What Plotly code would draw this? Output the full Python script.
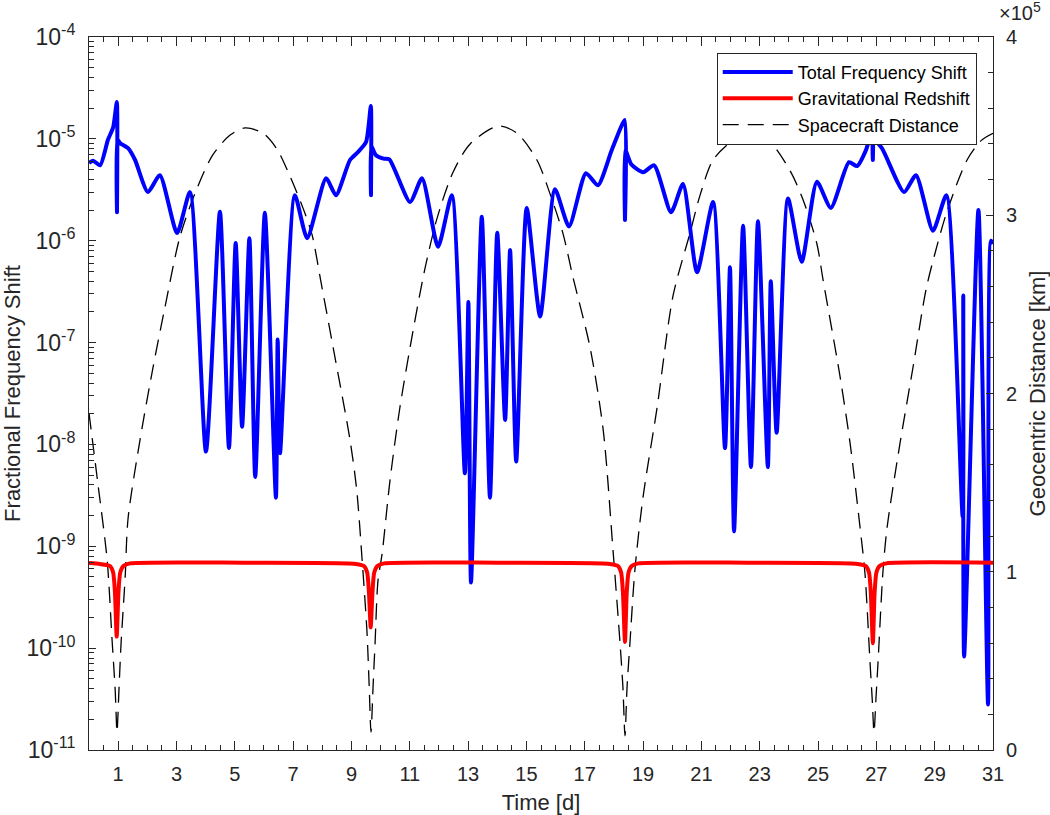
import plotly.graph_objects as go

# ---------------- data ----------------
# Total frequency shift (blue)
time_total = [0.00, 0.14, 0.38, 0.65, 0.83, 0.955, 0.960, 0.967, 1.06, 1.34, 1.58, 2.02,
              2.43, 3.02, 3.46, 4.01, 4.49, 4.80, 5.03, 5.25, 5.50, 5.70, 6.03, 6.41,
              6.47, 6.55, 7.06, 7.48, 8.13, 8.47, 8.95, 9.22, 9.50, 9.665, 9.670, 9.677,
              9.84, 10.10, 10.30, 11.01, 11.42, 11.97, 12.44, 12.89, 13.01, 13.10, 13.47,
              13.75, 14.00, 14.27, 14.44, 14.65, 15.01, 15.47, 15.98, 16.46, 17.04, 17.45,
              17.93, 18.375, 18.380, 18.387, 18.60, 19.00, 19.38, 19.96, 20.37, 20.85,
              21.40, 21.81, 21.98, 22.12, 22.43, 22.70, 22.94, 23.28, 23.38, 23.58, 23.97,
              24.44, 24.96, 25.44, 26.06, 26.34, 26.64, 26.875, 26.880, 26.887, 27.19,
              27.95, 28.36, 28.94, 29.40, 29.96, 29.98, 30.01, 30.50, 30.83, 30.93, 31.00]
total_shift = [5.8e-6, 6.1e-6, 5.5e-6, 9.8e-6, 1.3e-5, 2.3e-5, 1.9e-6, 1.0e-5, 9.1e-6, 8.1e-6,
               6.2e-6, 3.0e-6, 4.4e-6, 1.19e-6, 3.0e-6, 8.5e-9, 1.93e-6, 9.2e-9, 9.5e-7,
               1.49e-8, 1.06e-6, 4.8e-9, 1.88e-6, 3.0e-9, 1.07e-7, 8.2e-9, 2.8e-6, 1.06e-6,
               4.1e-6, 2.8e-6, 6.2e-6, 7.4e-6, 9.3e-6, 2.1e-5, 2.8e-6, 8.5e-6, 6.9e-6,
               6.4e-6, 6.3e-6, 2.4e-6, 4.1e-6, 8.7e-7, 2.8e-6, 5.2e-9, 2.5e-7, 4.4e-10,
               1.72e-6, 3.0e-9, 1.2e-6, 1.74e-8, 8.1e-7, 6.8e-9, 2.1e-6, 1.8e-7, 3.2e-6,
               1.38e-6, 4.6e-6, 3.5e-6, 7.8e-6, 1.53e-5, 1.6e-6, 7.8e-6, 5.6e-6, 4.7e-6,
               5.5e-6, 1.9e-6, 3.6e-6, 4.9e-7, 2.4e-6, 9.2e-9, 5.5e-7, 1.4e-9, 1.4e-6,
               6.0e-9, 1.55e-6, 6.0e-9, 4.0e-7, 1.3e-8, 2.6e-6, 6.2e-7, 3.8e-6, 2.1e-6,
               5.9e-6, 5.4e-6, 7.7e-6, 1.25e-5, 6.2e-6, 1.0e-5, 8.1e-6, 3.0e-6, 4.4e-6,
               1.25e-6, 2.8e-6, 1.95e-9, 2.9e-7, 8.3e-11, 2.0e-6, 2.8e-11, 1.0e-6, 9.3e-7]

# Gravitational redshift (red)
time_grav = [0.00, 0.38, 0.72, 0.83, 0.89, 0.95, 1.01, 1.07, 1.18, 1.41,
             5.30, 9.08, 9.43, 9.54, 9.60, 9.66, 9.72, 9.78, 9.89, 10.12,
             14.00, 17.79, 18.14, 18.25, 18.31, 18.38, 18.44, 18.50, 18.61, 18.84,
             22.60, 26.29, 26.64, 26.75, 26.81, 26.88, 26.94, 27.00, 27.11, 27.34, 31.00]
grav_shift = [6.85e-10, 6.7e-10, 6.4e-10, 5.5e-10, 3.5e-10, 1.3e-10, 3.5e-10, 5.5e-10, 6.4e-10, 6.8e-10,
              6.9e-10, 6.75e-10, 6.4e-10, 5.5e-10, 3.5e-10, 1.6e-10, 3.5e-10, 5.5e-10, 6.4e-10, 6.8e-10,
              6.9e-10, 6.75e-10, 6.4e-10, 5.5e-10, 3.5e-10, 1.15e-10, 3.5e-10, 5.5e-10, 6.4e-10, 6.8e-10,
              6.9e-10, 6.75e-10, 6.4e-10, 5.5e-10, 3.5e-10, 1.12e-10, 3.5e-10, 5.5e-10, 6.4e-10, 6.8e-10,
              6.9e-10]

# Spacecraft geocentric distance (black dashed), km
time_dist = [0.00, 0.30, 0.62, 0.79, 0.90, 0.96, 1.03, 1.10, 1.24, 1.34, 1.75, 2.20, 2.60,
             3.12, 3.70, 4.25, 4.84, 5.35, 5.97, 6.45, 6.89, 7.34, 7.65, 7.95, 8.37, 8.95,
             9.18, 9.36, 9.53, 9.61, 9.67, 9.74, 9.81, 9.91, 10.05, 10.32, 10.66, 11.11,
             11.52, 11.93, 12.48, 13.07, 14.03, 14.68, 15.36, 15.81, 16.25, 16.60, 17.18,
             17.63, 17.97, 18.21, 18.31, 18.38, 18.45, 18.55, 18.72, 19.00, 19.48, 20.03,
             20.61, 20.95, 21.40, 22.08, 22.60, 23.35, 24.04, 24.48, 24.96, 25.17, 25.75,
             26.10, 26.44, 26.61, 26.78, 26.86, 26.92, 26.99, 27.06, 27.23, 27.37, 27.81,
             28.26, 28.70, 29.00, 29.42, 30.11, 30.60, 31.00]
dist_km = [1.89e5, 1.50e5, 1.07e5, 0.62e5, 0.33e5, 0.10e5, 0.35e5, 0.60e5, 0.97e5, 1.30e5,
           1.74e5, 2.15e5, 2.48e5, 2.88e5, 3.15e5, 3.34e5, 3.45e5, 3.49e5, 3.46e5, 3.37e5,
           3.22e5, 3.04e5, 2.89e5, 2.63e5, 2.26e5, 1.74e5, 1.46e5, 1.08e5, 0.67e5, 0.35e5,
           0.10e5, 0.35e5, 0.60e5, 0.95e5, 1.10e5, 1.51e5, 1.92e5, 2.35e5, 2.70e5, 2.98e5,
           3.24e5, 3.40e5, 3.50e5, 3.46e5, 3.31e5, 3.12e5, 2.90e5, 2.65e5, 2.26e5, 1.80e5,
           1.12e5, 0.60e5, 0.35e5, 0.08e5, 0.35e5, 0.60e5, 1.01e5, 1.42e5, 1.92e5, 2.55e5,
           2.90e5, 3.11e5, 3.31e5, 3.42e5, 3.46e5, 3.41e5, 3.25e5, 3.09e5, 2.84e5, 2.64e5,
           2.10e5, 1.72e5, 1.25e5, 0.99e5, 0.50e5, 0.28e5, 0.10e5, 0.30e5, 0.50e5, 1.01e5,
           1.25e5, 1.72e5, 2.15e5, 2.58e5, 2.78e5, 3.02e5, 3.31e5, 3.42e5, 3.46e5]

x_ticks = list(range(1, 32, 2))
shift_ticks = [1e-11, 1e-10, 1e-9, 1e-8, 1e-7, 1e-6, 1e-5, 1e-4]
shift_tick_labels = ["10<sup>-11</sup>", "10<sup>-10</sup>", "10<sup>-9</sup>", "10<sup>-8</sup>",
                     "10<sup>-7</sup>", "10<sup>-6</sup>", "10<sup>-5</sup>", "10<sup>-4</sup>"]
dist_ticks = [0, 1e5, 2e5, 3e5, 4e5]
dist_tick_labels = ["0", "1", "2", "3", "4"]

# ---------------- figure ----------------
AX = "#262626"
FONT = "Liberation Sans, Arial, Helvetica, sans-serif"

fig = go.Figure()
fig.add_trace(go.Scatter(
    x=time_dist, y=dist_km, name="Spacecraft Distance", mode="lines", yaxis="y",
    line=dict(color="black", width=1.3, dash="16px,9px", shape="spline", smoothing=0.8),
    legendrank=3))
fig.add_trace(go.Scatter(
    x=time_total, y=total_shift, name="Total Frequency Shift", mode="lines", yaxis="y2",
    line=dict(color="#0000ff", width=4, shape="spline", smoothing=0.6),
    legendrank=1))
fig.add_trace(go.Scatter(
    x=time_grav, y=grav_shift, name="Gravitational Redshift", mode="lines", yaxis="y2",
    line=dict(color="#ff0000", width=4, shape="spline", smoothing=0.6),
    legendrank=2))

tick_common = dict(ticks="inside", tickcolor=AX, tickwidth=1, showline=True, linecolor=AX,
                   linewidth=1, showgrid=False, zeroline=False, automargin=False)

fig.update_layout(
    width=1050, height=815,
    margin=dict(l=89, r=57, t=37, b=65),
    paper_bgcolor="white", plot_bgcolor="white",
    font=dict(family=FONT, size=20, color=AX),
    showlegend=True,
    xaxis=dict(range=[0, 31], tickvals=x_ticks, ticklen=9, mirror="ticks",
               minor=dict(dtick=0.5, tick0=0, ticks="inside", ticklen=5, tickcolor=AX),
               ticklabelstandoff=6,
               title=dict(text="Time [d]", font=dict(size=22), standoff=10),
               **tick_common),
    yaxis=dict(range=[0, 4e5], side="right", anchor="x", tickvals=dist_ticks,
               ticktext=dist_tick_labels, ticklen=7,
               minor=dict(dtick=2e4, tick0=0, ticks="inside", ticklen=5, tickcolor=AX),
               ticklabelstandoff=8,
               title=dict(text="Geocentric Distance [km]", font=dict(size=22), standoff=14),
               **tick_common),
    yaxis2=dict(type="log", range=[-11, -4], side="left", overlaying="y", anchor="x",
                tickvals=shift_ticks, ticktext=shift_tick_labels, ticklen=7,
                tickfont=dict(size=23),
                minor=dict(dtick="D1", ticks="inside", ticklen=5, tickcolor=AX),
                ticklabelstandoff=8,
                title=dict(text="Fractional Frequency Shift", font=dict(size=22), standoff=10),
                **tick_common),
    legend=dict(x=0.982, y=0.978, xanchor="right", yanchor="top", bgcolor="white",
                bordercolor=AX, borderwidth=1, font=dict(size=18, color="black"),
                itemwidth=70, tracegroupgap=0),
    annotations=[dict(text="×10<sup>5</sup>", xref="paper", yref="paper",
                      x=1.004, y=1.036, xanchor="left", yanchor="middle",
                      showarrow=False, font=dict(size=20, color=AX))],
)

fig.write_html("out.html")
